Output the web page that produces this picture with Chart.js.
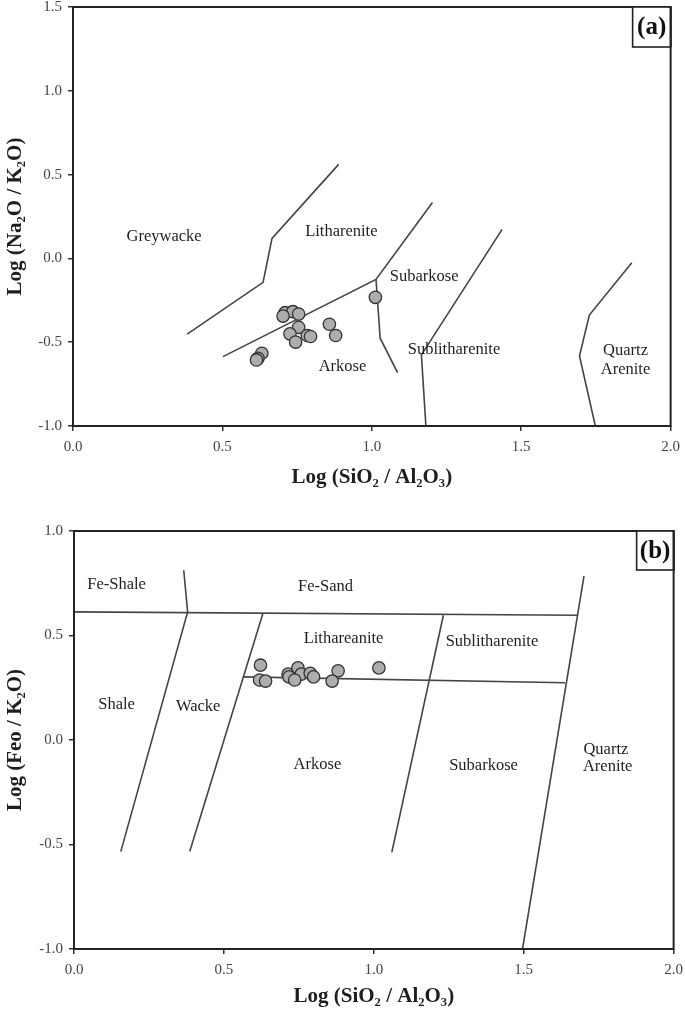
<!DOCTYPE html>
<html>
<head>
<meta charset="utf-8">
<script src="https://cdn.jsdelivr.net/npm/chart.js@4.4.1/dist/chart.umd.min.js"></script>
<style>
  html, body { margin: 0; padding: 0; background: #fff; width: 685px; height: 1009px; overflow: hidden; position: relative; }
  #wrapA { position: absolute; left: 0; top: -8px; width: 687px; height: 498px; }
  #wrapB { position: absolute; left: 0; top: 500px; width: 690px; height: 509px; }
</style>
</head>
<body>
<div id="wrapA"><canvas id="chartA" width="687" height="498"></canvas></div>
<div id="wrapB"><canvas id="chartB" width="690" height="509"></canvas></div>
<script>
// ---------- Tick values ----------
const xTicks = [0.0, 0.5, 1.0, 1.5, 2.0];
const yTicksA = [-1.0, -0.5, 0.0, 0.5, 1.0, 1.5];
const yTicksB = [-1.0, -0.5, 0.0, 0.5, 1.0];

// ---------- (a) Sample values: Log(SiO2/Al2O3), Log(Na2O/K2O) ----------
const sampleXA = [0.710, 0.736, 0.755, 0.703, 0.755, 0.726, 0.745, 0.784, 0.795, 0.858, 0.879, 1.012, 0.632, 0.619, 0.614];
const sampleYA = [-0.324, -0.318, -0.332, -0.344, -0.411, -0.450, -0.499, -0.460, -0.466, -0.393, -0.460, -0.232, -0.566, -0.596, -0.606];

// ---------- (a) Field boundaries ----------
const boundaryA1 = [[0.382, -0.452], [0.636, -0.143], [0.666, 0.119], [0.889, 0.561]];
const boundaryA2 = [[0.502, -0.586], [1.014, -0.125], [1.203, 0.333]];
const boundaryA3 = [[1.014, -0.125], [1.028, -0.476], [1.086, -0.681]];
const boundaryA4 = [[1.436, 0.173], [1.166, -0.576], [1.181, -1.0]];
const boundaryA5 = [[1.870, -0.026], [1.728, -0.338], [1.695, -0.582], [1.748, -1.0]];

// ---------- (a) Field names ----------
const fieldTextA = ['Greywacke', 'Litharenite', 'Subarkose', 'Arkose', 'Sublitharenite', 'Quartz', 'Arenite'];
const fieldXA = [0.305, 0.898, 1.175, 0.902, 1.275, 1.849, 1.849];
const fieldYA = [0.127, 0.157, -0.111, -0.647, -0.546, -0.552, -0.665];

// ---------- (b) Sample values: Log(SiO2/Al2O3), Log(FeO/K2O) ----------
const sampleXB = [0.622, 0.619, 0.639, 0.714, 0.717, 0.747, 0.758, 0.736, 0.788, 0.799, 0.881, 0.861, 1.017];
const sampleYB = [0.358, 0.287, 0.282, 0.315, 0.302, 0.345, 0.315, 0.287, 0.319, 0.302, 0.331, 0.282, 0.345];

// ---------- (b) Field boundaries ----------
const boundaryB1 = [[0.0, 0.613], [1.679, 0.597]];
const boundaryB2 = [[0.366, 0.812], [0.379, 0.613], [0.156, -0.534]];
const boundaryB3 = [[0.630, 0.605], [0.386, -0.534]];
const boundaryB4 = [[0.564, 0.302], [1.638, 0.274]];
const boundaryB5 = [[1.232, 0.597], [1.060, -0.538]];
const boundaryB6 = [[1.701, 0.784], [1.496, -1.0]];

// ---------- (b) Field names ----------
const fieldTextB = ['Fe-Shale', 'Fe-Sand', 'Shale', 'Wacke', 'Lithareanite', 'Sublitharenite', 'Arkose', 'Subarkose', 'Quartz', 'Arenite'];
const fieldXB = [0.142, 0.839, 0.142, 0.414, 0.899, 1.394, 0.812, 1.366, 1.774, 1.780];
const fieldYB = [0.745, 0.736, 0.167, 0.159, 0.483, 0.470, -0.119, -0.124, -0.044, -0.130];

const SERIF = '"Liberation Serif", "Times New Roman", "DejaVu Serif", serif';

function lineDataset(pts) {
  return {
    type: 'scatter',
    data: pts.map(p => ({ x: p[0], y: p[1] })),
    showLine: true,
    borderColor: '#444',
    borderWidth: 1.6,
    pointRadius: 0,
    fill: false,
    tension: 0
  };
}

function pointDataset(xs, ys) {
  return {
    type: 'scatter',
    data: xs.map((x, i) => ({ x: x, y: ys[i] })),
    pointRadius: 6.2,
    pointBackgroundColor: '#adadad',
    pointBorderColor: '#333',
    pointBorderWidth: 1.3,
    showLine: false
  };
}

function framePlugin(label, texts, xs, ys, boxW, boxH) {
  return {
    id: 'frame_' + label,
    afterDatasetsDraw(chart) {
      const ctx = chart.ctx;
      const a = chart.chartArea;
      const sx = chart.scales.x, sy = chart.scales.y;
      ctx.save();
      // field names
      ctx.fillStyle = '#1e1e1e';
      ctx.font = '16.5px ' + SERIF;
      ctx.textAlign = 'center';
      ctx.textBaseline = 'middle';
      texts.forEach((t, i) => {
        ctx.fillText(t, sx.getPixelForValue(xs[i]), sy.getPixelForValue(ys[i]));
      });
      // frame
      ctx.strokeStyle = '#222';
      ctx.lineWidth = 2;
      ctx.strokeRect(a.left, a.top, a.right - a.left, a.bottom - a.top);
      // panel label box
      ctx.lineWidth = 1.6;
      ctx.fillStyle = '#fff';
      ctx.fillRect(a.right - boxW, a.top, boxW, boxH);
      ctx.strokeRect(a.right - boxW, a.top, boxW, boxH);
      ctx.lineWidth = 2;
      ctx.beginPath();
      ctx.moveTo(a.right, a.top); ctx.lineTo(a.right, a.top + boxH);
      ctx.stroke();
      ctx.fillStyle = '#111';
      ctx.font = 'bold 25px ' + SERIF;
      ctx.textAlign = 'center';
      ctx.textBaseline = 'middle';
      ctx.fillText(label, a.right - boxW / 2, a.top + boxH / 2 + 1);
      ctx.restore();
    }
  };
}

function makeOptions(yMin, yMax, yTitle, yWidth, xHeight, pad) {
  const tickFont = { family: SERIF, size: 15 };
  const titleFont = { family: SERIF, size: 21, weight: 'bold' };
  return {
    responsive: false,
    animation: false,
    events: [],
    layout: { padding: pad },
    plugins: { legend: { display: false }, tooltip: { enabled: false } },
    scales: {
      x: {
        type: 'linear', min: 0, max: 2,
        afterBuildTicks: s => { s.ticks = xTicks.map(v => ({ value: v })); },
        afterFit: s => { s.height = xHeight; },
        ticks: { font: tickFont, color: '#444', padding: 7, callback: v => Number(v).toFixed(1), maxRotation: 0 },
        grid: { drawOnChartArea: false, drawTicks: true, tickLength: 5, color: '#333', lineWidth: 1.5 },
        border: { display: false },
        title: { display: true, text: 'Log (SiO\u2082 / Al\u2082O\u2083)', font: titleFont, color: '#1e1e1e', padding: { top: 8, bottom: 0 } }
      },
      y: {
        type: 'linear', min: yMin, max: yMax,
        afterBuildTicks: s => { s.ticks = (yMax > 1.2 ? yTicksA : yTicksB).map(v => ({ value: v })); },
        afterFit: s => { s.width = yWidth; },
        ticks: { font: tickFont, color: '#444', padding: 6, callback: v => Number(v).toFixed(1) },
        grid: { drawOnChartArea: false, drawTicks: true, tickLength: 5, color: '#333', lineWidth: 1.5 },
        border: { display: false },
        title: { display: true, text: yTitle, font: titleFont, color: '#1e1e1e', padding: { top: 3, bottom: 0 } }
      }
    }
  };
}

new Chart(document.getElementById('chartA'), {
  type: 'scatter',
  data: {
    datasets: [
      pointDataset(sampleXA, sampleYA),
      lineDataset(boundaryA1), lineDataset(boundaryA2), lineDataset(boundaryA3),
      lineDataset(boundaryA4), lineDataset(boundaryA5)
    ]
  },
  options: makeOptions(-1.0, 1.5, 'Log (Na\u2082O / K\u2082O)', 73, 64, { left: 0, right: 15, top: 6, bottom: 0 }),
  plugins: [framePlugin('(a)', fieldTextA, fieldXA, fieldYA, 38, 40)]
});

new Chart(document.getElementById('chartB'), {
  type: 'scatter',
  data: {
    datasets: [
      pointDataset(sampleXB, sampleYB),
      lineDataset(boundaryB1), lineDataset(boundaryB2), lineDataset(boundaryB3),
      lineDataset(boundaryB4), lineDataset(boundaryB5), lineDataset(boundaryB6)
    ]
  },
  options: makeOptions(-1.0, 1.0, 'Log (Feo / K\u2082O)', 74, 60, { left: 0, right: 15, top: 31, bottom: 0 }),
  plugins: [framePlugin('(b)', fieldTextB, fieldXB, fieldYB, 37, 39)]
});
</script>
</body>
</html>
